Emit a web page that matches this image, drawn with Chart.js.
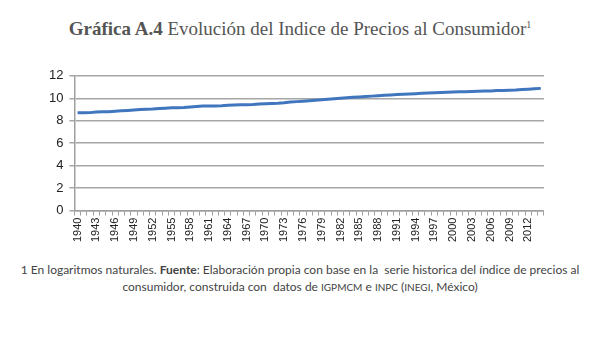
<!DOCTYPE html>
<html>
<head>
<meta charset="utf-8">
<script src="https://cdn.jsdelivr.net/npm/chart.js@4"></script>
<style>
  body { margin: 0; background: #fff; width: 600px; height: 350px; overflow: hidden; position: relative; }
  #title { position: absolute; top: 18px; left: 0; width: 600px; text-align: center;
    font-family: "Liberation Serif", serif; font-size: 19px; color: #555; }
  #title sup { font-size: 10px; }
  #wrap { position: absolute; left: 0; top: 62px; width: 556px; height: 182px; }
  #note { position: absolute; top: 262px; left: 0; width: 600px; text-align: center;
    font-family: Lato, sans-serif; font-size: 12px; color: #444; line-height: 16px; }
  .sc { font-variant: small-caps; text-transform: lowercase; font-size: 14px; }
</style>
</head>
<body>
<div id="title"><b>Gráfica A.4</b> Evolución del Indice de Precios al Consumidor<sup>1</sup></div>
<div id="wrap"><canvas id="inpcChart" width="556" height="182"></canvas></div>
<div id="note">1 En logaritmos naturales. <b>Fuente</b>: Elaboración propia con base en la&nbsp; serie historica del índice de precios al<br>consumidor, construida con&nbsp; datos de <span class="sc">IGPMCM</span> e <span class="sc">INPC</span> (<span class="sc">INEGI</span>, México)</div>
<script>
const years = [];
for (let y = 1940; y <= 2014; y++) years.push(String(y));

// log of index
const logIndex = [
  8.70, 8.70, 8.72, 8.78, 8.80, 8.80, 8.84, 8.88, 8.92, 8.96,
  9.00, 9.02, 9.04, 9.08, 9.12, 9.15, 9.16, 9.18, 9.22, 9.26,
  9.30, 9.31, 9.32, 9.34, 9.38, 9.41, 9.42, 9.43, 9.44, 9.48,
  9.52, 9.54, 9.56, 9.60, 9.66, 9.70, 9.74, 9.78, 9.82, 9.86,
  9.92, 9.96, 10.00, 10.04, 10.08, 10.12, 10.15, 10.19, 10.23, 10.27,
  10.30, 10.33, 10.36, 10.38, 10.41, 10.44, 10.47, 10.50, 10.52, 10.54,
  10.56, 10.57, 10.58, 10.61, 10.63, 10.64, 10.65, 10.68, 10.70, 10.71,
  10.73, 10.77, 10.80, 10.84, 10.88
];

const yTicks = [0, 2, 4, 6, 8, 10, 12];

const ctx = document.getElementById("inpcChart").getContext("2d");
new Chart(ctx, {
  type: "line",
  data: {
    labels: years,
    datasets: [
      {
        data: logIndex,
        borderColor: "#3f76be",
        borderWidth: 3,
        pointRadius: 0,
        tension: 0,
      },
    ],
  },
  options: {
    responsive: false,
    animation: false,
    layout: { padding: { left: 43, top: 4, right: 0, bottom: 0 } },
    plugins: { legend: { display: false }, tooltip: { enabled: false } },
    scales: {
      x: {
        offset: true,
        grid: {
          offset: true,
          drawOnChartArea: false,
          drawTicks: true,
          tickLength: 5,
          color: "#a0a0a0",
        },
        border: { color: "#a0a0a0", width: 1.5 },
        ticks: {
          autoSkip: false,
          minRotation: 90,
          maxRotation: 90,
          color: "#222",
          font: { family: "Liberation Sans", size: 11 },
          padding: 2,
          callback: (value, index) => (index % 3 === 0 ? years[index] : ""),
        },
      },
      y: {
        min: 0,
        max: 12,
        afterBuildTicks: (axis) => {
          axis.ticks = yTicks.map((v) => ({ value: v }));
        },
        grid: { color: "#a6a6a6", lineWidth: 1.5, tickLength: 5 },
        border: { color: "#a0a0a0", width: 1.5 },
        ticks: {
          color: "#222",
          font: { family: "Liberation Sans", size: 13 },
          padding: 6,
        },
      },
    },
  },
});
</script>
</body>
</html>
